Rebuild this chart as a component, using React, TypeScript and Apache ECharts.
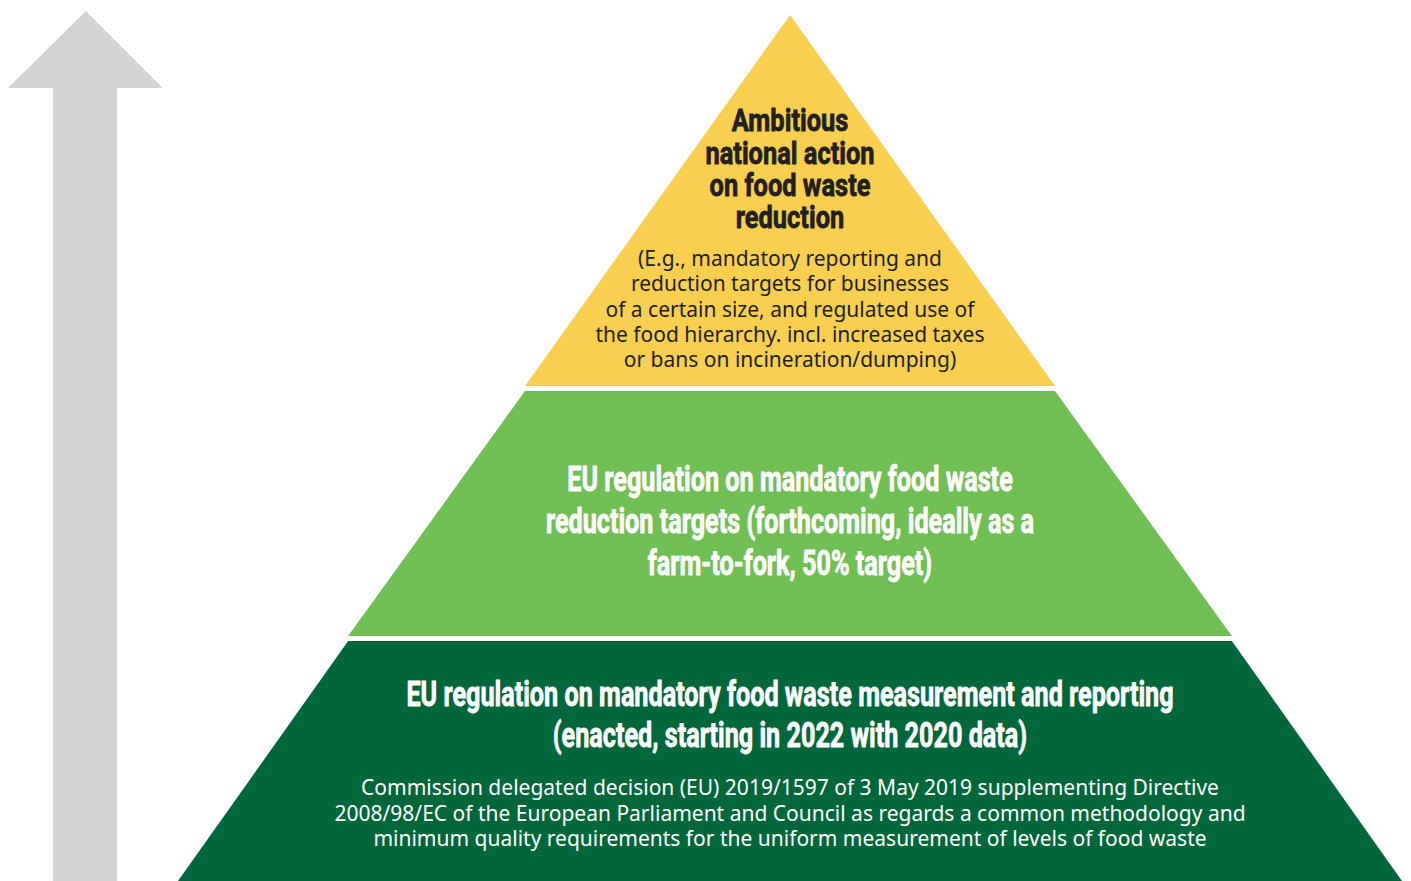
import React, { useEffect, useRef } from "react";
import * as echarts from "echarts";

// Pyramid levels, bottom to top
const levelNames = ["Measurement and reporting", "Reduction targets", "National action"];
const levelValues = [100, 72.2, 43.3];
const levelHeights = [240, 245, 371];
const levelColors = ["#00673d", "#70bf54", "#f8cf4e"];
const levelTextColors = ["#ffffff", "#ffffff", "#231f20"];
const levelTitles = [
  ["EU regulation on mandatory food waste measurement and reporting", "(enacted, starting in 2022 with 2020 data)"],
  ["EU regulation on mandatory food waste", "reduction targets (forthcoming, ideally as a", "farm-to-fork, 50% target)"],
  ["Ambitious", "national action", "on food waste", "reduction"],
];
const levelBodies = [
  [
    "Commission delegated decision (EU) 2019/1597 of 3 May 2019 supplementing Directive",
    "2008/98/EC of the European Parliament and Council as regards a common methodology and",
    "minimum quality requirements for the uniform measurement of levels of food waste",
  ],
  [],
  [
    "(E.g., mandatory reporting and",
    "reduction targets for businesses",
    "of a certain size, and regulated use of",
    "the food hierarchy. incl. increased taxes",
    "or bans on incineration/dumping)",
  ],
];

// text styling / placement
const titleCenters = [714.5, 521, 169.5];
const titleLineHeights = [41.5, 42, 32.3];
const titleFontSizes = [35, 35, 31];
const titleScales = [0.72, 0.72, 0.82];
const bodyShifts = [51.5, 0, 108];

export default function App() {
  const ref = useRef<HTMLDivElement>(null);

  useEffect(() => {
    if (!ref.current) return;
    const chart = echarts.init(ref.current, null, { renderer: "svg" });

    const data = levelNames.map((name, i) => ({
      name,
      value: levelValues[i],
      itemStyle: { color: levelColors[i], height: levelHeights[i], borderWidth: 0 },
      label: {
        show: levelBodies[i].length > 0,
        position: "inside",
        overflow: "none",
        formatter: levelBodies[i].join("\n"),
        fontFamily: "'Noto Sans', 'Open Sans', sans-serif",
        fontSize: 21,
        lineHeight: 25.4,
        color: levelTextColors[i],
        align: "center",
      },
    }));

    const titleGraphics = levelTitles.map((lines, i) => ({
      type: "group",
      x: 790,
      y: titleCenters[i],
      scaleX: titleScales[i],
      z: 100,
      silent: true,
      children: [
        {
          type: "text",
          z: 100,
          style: {
            text: lines.join("\n"),
            x: 0,
            y: 0,
            textAlign: "center",
            textVerticalAlign: "middle",
            fontFamily: "Roboto, 'Noto Sans', sans-serif",
            fontWeight: "bold",
            fontSize: titleFontSizes[i],
            lineHeight: titleLineHeights[i],
            fill: levelTextColors[i],
            stroke: levelTextColors[i],
            lineWidth: 0.8,
          },
        },
      ],
    }));

    chart.setOption({
      animation: false,
      backgroundColor: "#ffffff",
      series: [
        {
          type: "funnel",
          sort: "ascending",
          left: 178,
          top: 15,
          width: 1224,
          height: 866,
          min: 0,
          max: 100,
          minSize: "0%",
          maxSize: "100%",
          gap: 5,
          labelLine: { show: false },
          labelLayout: (p: any) => ({ dy: bodyShifts[p.dataIndex] }),
          emphasis: { disabled: true },
          data,
        },
      ],
      graphic: [
        {
          type: "polygon",
          shape: {
            points: [
              [8, 88],
              [86, 11],
              [163, 88],
              [117, 88],
              [117, 881],
              [53, 881],
              [53, 88],
            ],
          },
          style: { fill: "#d1d3d4" },
          silent: true,
        },
        ...titleGraphics,
      ],
    });

    return () => chart.dispose();
  }, []);

  return (
    <div
      ref={ref}
      style={{ position: "fixed", left: 0, top: 0, width: 1411, height: 881 }}
    />
  );
}
